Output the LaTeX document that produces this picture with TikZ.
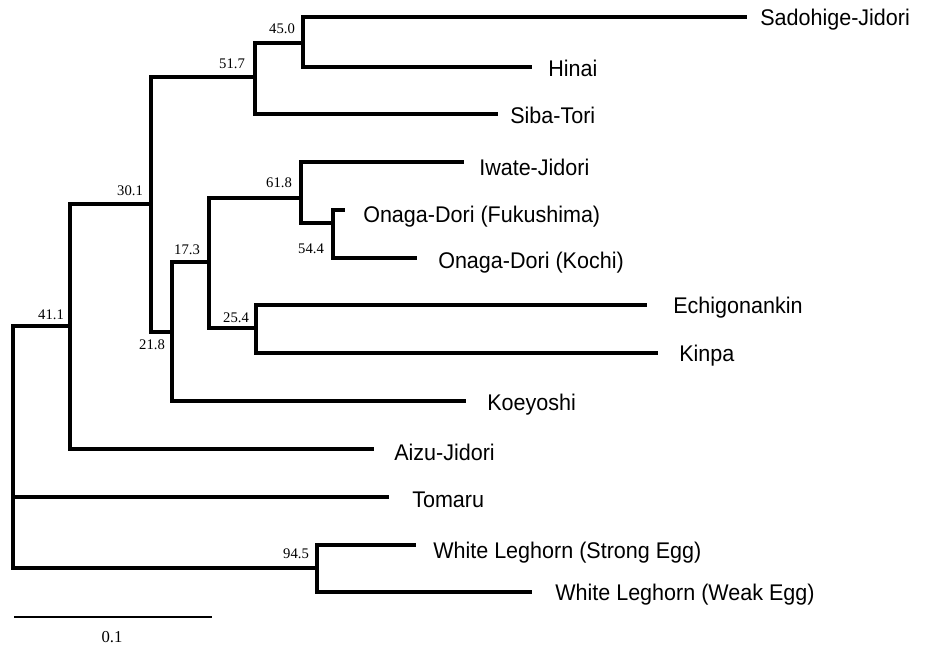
\documentclass[tikz,border=0pt]{standalone}
\usepackage{fontspec}
\setmainfont{Liberation Serif}
\newfontfamily\leaffont[FakeStretch=0.95]{Liberation Sans}
\begin{document}
\begin{tikzpicture}[x=0.75pt,y=-0.75pt,
  branch/.style={line width=2.5pt,line join=miter},
  scalebar/.style={line width=1.1pt},
  taxon/.style={anchor=base west,inner sep=0pt,font=\leaffont\fontsize{17}{20}\selectfont},
  support/.style={inner sep=0pt,font=\fontsize{11}{13}\selectfont},
  barlabel/.style={inner sep=0pt,font=\fontsize{12.5}{14}\selectfont}]
\useasboundingbox (0,0) rectangle (931,646);

% internal nodes (x of the vertical bar, y of the incoming branch)
\coordinate (root) at (13,447);
\coordinate (n41) at (70,326);
\coordinate (n30) at (151,204);
\coordinate (n51) at (255,77);
\coordinate (n45) at (303,43);
\coordinate (n21) at (172,332);
\coordinate (n17) at (209,262);
\coordinate (n61) at (301,198);
\coordinate (n54) at (333,223);
\coordinate (n25) at (256,328);
\coordinate (n94) at (317,568);

% branch tips
\coordinate (tSado) at (747,17);
\coordinate (tHinai) at (532,67);
\coordinate (tSiba) at (498,114);
\coordinate (tIwate) at (464,162);
\coordinate (tFuku) at (345,210);
\coordinate (tKochi) at (417,258);
\coordinate (tEchi) at (647,305);
\coordinate (tKinpa) at (658,353);
\coordinate (tKoe) at (466,401);
\coordinate (tAizu) at (374,449);
\coordinate (tTomaru) at (389,497);
\coordinate (tStrong) at (416,545);
\coordinate (tWeak) at (532,592);

% taxon names
\node[taxon] (Sado) at (760,26) {Sadohige-Jidori};
\node[taxon] (Hinai) at (548,76) {Hinai};
\node[taxon] (Siba) at (510,123) {Siba-Tori};
\node[taxon] (Iwate) at (479,175) {Iwate-Jidori};
\node[taxon] (Fuku) at (363,222) {Onaga-Dori (Fukushima)};
\node[taxon] (Kochi) at (438,268) {Onaga-Dori (Kochi)};
\node[taxon] (Echi) at (673,313) {Echigonankin};
\node[taxon] (Kinpa) at (679,361) {Kinpa};
\node[taxon] (Koe) at (487,410) {Koeyoshi};
\node[taxon] (Aizu) at (394,460) {Aizu-Jidori};
\node[taxon] (Tomaru) at (412,507) {Tomaru};
\node[taxon] (Strong) at (433,558) {White Leghorn (Strong Egg)};
\node[taxon] (Weak) at (555,600) {White Leghorn (Weak Egg)};

% bootstrap values
\node[support] (b45) at (282,29) {45.0};
\node[support] (b51) at (232,64) {51.7};
\node[support] (b30) at (130,191) {30.1};
\node[support] (b61) at (279,183) {61.8};
\node[support] (b41) at (51,315) {41.1};
\node[support] (b21) at (152,345) {21.8};
\node[support] (b17) at (187,250) {17.3};
\node[support] (b25) at (236,318) {25.4};
\node[support] (b54) at (311,249) {54.4};
\node[support] (b94) at (296,554) {94.5};

% branches
\draw[branch] (root) |- (n41);
\draw[branch] (root) |- (tTomaru);
\draw[branch] (root) |- (n94);
\draw[branch] (n41) |- (n30);
\draw[branch] (n41) |- (tAizu);
\draw[branch] (n30) |- (n51);
\draw[branch] (n30) |- (n21);
\draw[branch] (n51) |- (n45);
\draw[branch] (n51) |- (tSiba);
\draw[branch] (n45) |- (tSado);
\draw[branch] (n45) |- (tHinai);
\draw[branch] (n21) |- (n17);
\draw[branch] (n21) |- (tKoe);
\draw[branch] (n17) |- (n61);
\draw[branch] (n17) |- (n25);
\draw[branch] (n61) |- (tIwate);
\draw[branch] (n61) |- (n54);
\draw[branch] (n54) |- (tFuku);
\draw[branch] (n54) |- (tKochi);
\draw[branch] (n25) |- (tEchi);
\draw[branch] (n25) |- (tKinpa);
\draw[branch] (n94) |- (tStrong);
\draw[branch] (n94) |- (tWeak);

% scale bar
\coordinate (sbL) at (14,617);
\coordinate (sbR) at (212,617);
\draw[scalebar] (sbL) -- (sbR);
\node[barlabel] (sbText) at (112,637) {0.1};
\end{tikzpicture}
\end{document}
